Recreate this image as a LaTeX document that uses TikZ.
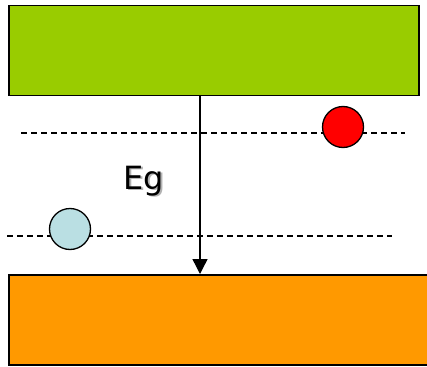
\documentclass[tikz,border=0pt]{standalone}
\usepackage{fontspec}
\setmainfont{DejaVu Sans}
\usetikzlibrary{arrows.meta}
\definecolor{bandgreen}{HTML}{99CC00}
\definecolor{bandorange}{HTML}{FF9900}
\definecolor{holeblue}{HTML}{BADFE3}
\begin{document}
\begin{tikzpicture}[x=1pt,y=-1pt,
  band/.style={draw=black,line width=1.5pt,rectangle,inner sep=0pt},
  level/.style={line width=1.5pt,dash pattern=on 6pt off 4pt},
  carrier/.style={draw=black,line width=1.3pt,circle,inner sep=0pt,minimum size=41pt}]
\fill[white] (0,0) rectangle (427,366);
\useasboundingbox (0,0) rectangle (427,366);
\clip (0,0) rectangle (427,366);
\node[band,fill=bandgreen,minimum width=410pt,minimum height=90pt,anchor=north west] (cb) at (8,5) {};
\node[band,fill=bandorange,minimum width=440pt,minimum height=90pt,anchor=north west] (vb) at (8,274) {};
\coordinate (l1a) at (21,133); \coordinate (l1b) at (405,133);
\coordinate (l2a) at (7,236); \coordinate (l2b) at (392,236);
\draw[level] (l1a) -- (l1b);
\draw[level] (l2a) -- (l2b);
\coordinate (arrtop) at (200,95);
\draw[line width=1.4pt,-{Triangle[width=15pt,length=15pt]}] (arrtop) -- (arrtop |- vb.north);
\node[carrier,fill=red] (el) at (343,127) {};
\node[carrier,fill=holeblue] (ho) at (70,229) {};
\node[text=black!30,font=\fontsize{32}{36}\selectfont] at (145.5,182.5) {Eg};
\node[text=black,font=\fontsize{32}{36}\selectfont] (eg) at (144,181) {Eg};
\end{tikzpicture}
\end{document}
